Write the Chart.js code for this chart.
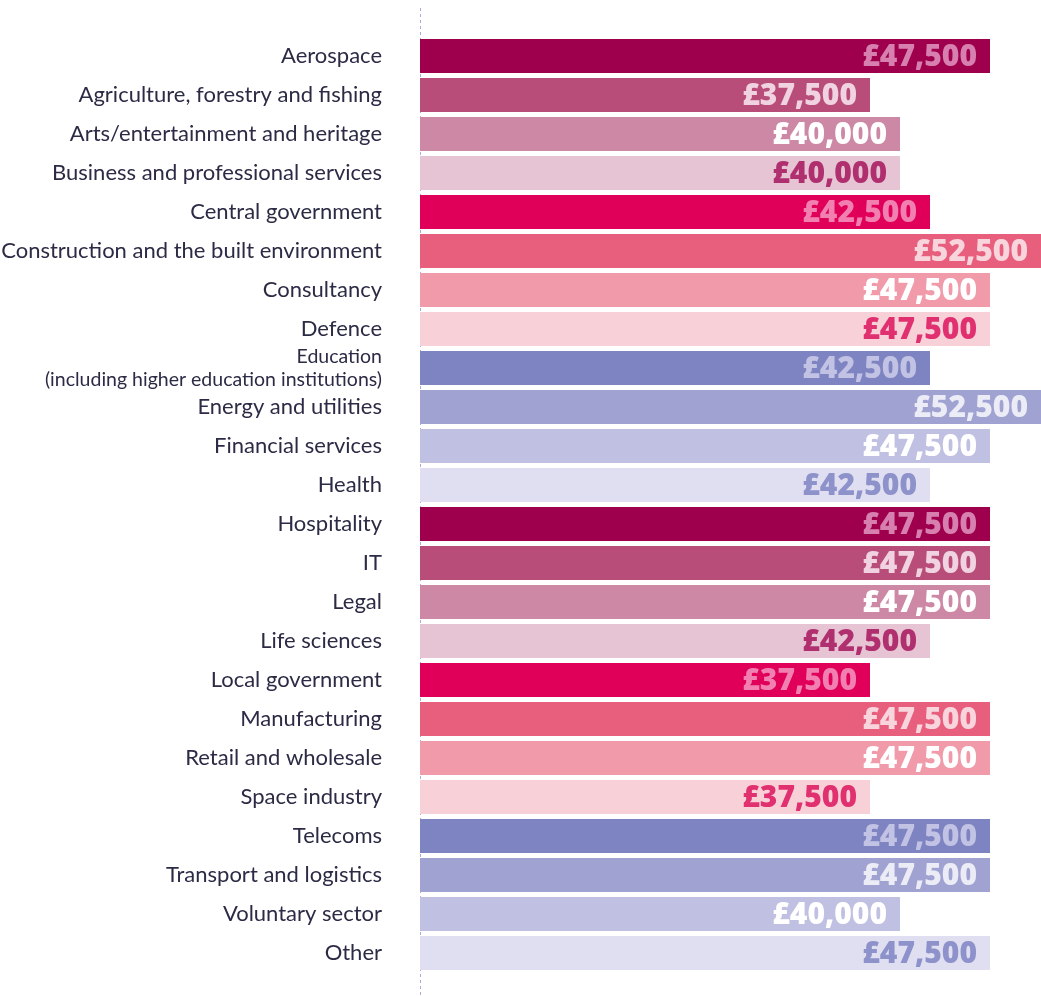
<!DOCTYPE html>
<html>
<head>
<meta charset="utf-8">
<script src="https://cdn.jsdelivr.net/npm/chart.js@4/dist/chart.umd.min.js"></script>
<style>
  html, body { margin: 0; padding: 0; background: #fff; }
  #wrap { width: 1041px; height: 996px; position: relative; }
</style>
</head>
<body>
<div id="wrap"><canvas id="chart"></canvas></div>
<script>
// Sectors and median salaries
const sectors = [
  'Aerospace',
  'Agriculture, forestry and fishing',
  'Arts/entertainment and heritage',
  'Business and professional services',
  'Central government',
  'Construction and the built environment',
  'Consultancy',
  'Defence',
  ['Education', '(including higher education institutions)'],
  'Energy and utilities',
  'Financial services',
  'Health',
  'Hospitality',
  'IT',
  'Legal',
  'Life sciences',
  'Local government',
  'Manufacturing',
  'Retail and wholesale',
  'Space industry',
  'Telecoms',
  'Transport and logistics',
  'Voluntary sector',
  'Other'
];
const salaries = [
  47500, 37500, 40000, 40000, 42500, 52500, 47500, 47500, 42500, 52500, 47500, 42500,
  47500, 47500, 47500, 42500, 37500, 47500, 47500, 37500, 47500, 47500, 40000, 47500
];

// palette repeats every 12 bars
const barColours = ['#9e004e', '#b84d79', '#cd88a5', '#e6c4d3', '#e0005a', '#e85f7e',
                    '#f09aaa', '#f8d0d8', '#7e84c1', '#a0a2d2', '#c0c0e2', '#e0dff1'];
const labelColours = ['#d77fae', '#f0d2e0', '#ffffff', '#b0306f', '#f17fb0', '#f8d4dc',
                      '#ffffff', '#e0306f', '#c2c2e4', '#ececf6', '#ffffff', '#8e92ca'];

const valueLabels = {
  id: 'valueLabels',
  afterDatasetsDraw(chart) {
    const ctx = chart.ctx;
    const meta = chart.getDatasetMeta(0);
    ctx.save();
    ctx.font = '800 30px "Open Sans"';
    ctx.textAlign = 'right';
    ctx.textBaseline = 'middle';
    meta.data.forEach((bar, i) => {
      const right = Math.min(bar.x, chart.chartArea.right);
      ctx.fillStyle = labelColours[i % 12];
      ctx.fillText('£' + salaries[i].toLocaleString('en-GB'), right - 13, bar.y + 1);
    });
    ctx.restore();
  }
};

const axisLine = {
  id: 'axisLine',
  beforeDatasetsDraw(chart) {
    const ctx = chart.ctx;
    const x = chart.scales.x.getPixelForValue(0);
    ctx.save();
    ctx.strokeStyle = '#a9acd8';
    ctx.lineWidth = 1;
    ctx.setLineDash([3, 3]);
    ctx.beginPath();
    ctx.moveTo(x + 0.5, 8);
    ctx.lineTo(x + 0.5, chart.height);
    ctx.stroke();
    ctx.restore();
  }
};

const ctx = document.getElementById('chart').getContext('2d');
new Chart(ctx, {
  type: 'bar',
  data: {
    labels: sectors,
    datasets: [{
      data: salaries,
      backgroundColor: salaries.map((v, i) => barColours[i % 12]),
      barPercentage: 0.87,
      categoryPercentage: 1
    }]
  },
  options: {
    indexAxis: 'y',
    responsive: true,
    maintainAspectRatio: false,
    animation: false,
    layout: { padding: { top: 36.5, bottom: 23.5, left: 0, right: 0 } },
    plugins: { legend: { display: false }, tooltip: { enabled: false } },
    scales: {
      x: { display: false, min: 0, max: 51750 },
      y: {
        afterFit(scale) {
          scale.width = 420;
          scale.paddingTop = 0;
          scale.paddingBottom = 0;
        },
        grid: { display: false },
        border: { display: false },
        ticks: {
          autoSkip: false,
          padding: 30,
          color: '#2b2b45',
          font: (c) => ({ family: 'Lato', size: c.index === 8 ? 19.5 : 22 })
        }
      }
    }
  },
  plugins: [valueLabels, axisLine]
});
</script>
</body>
</html>
